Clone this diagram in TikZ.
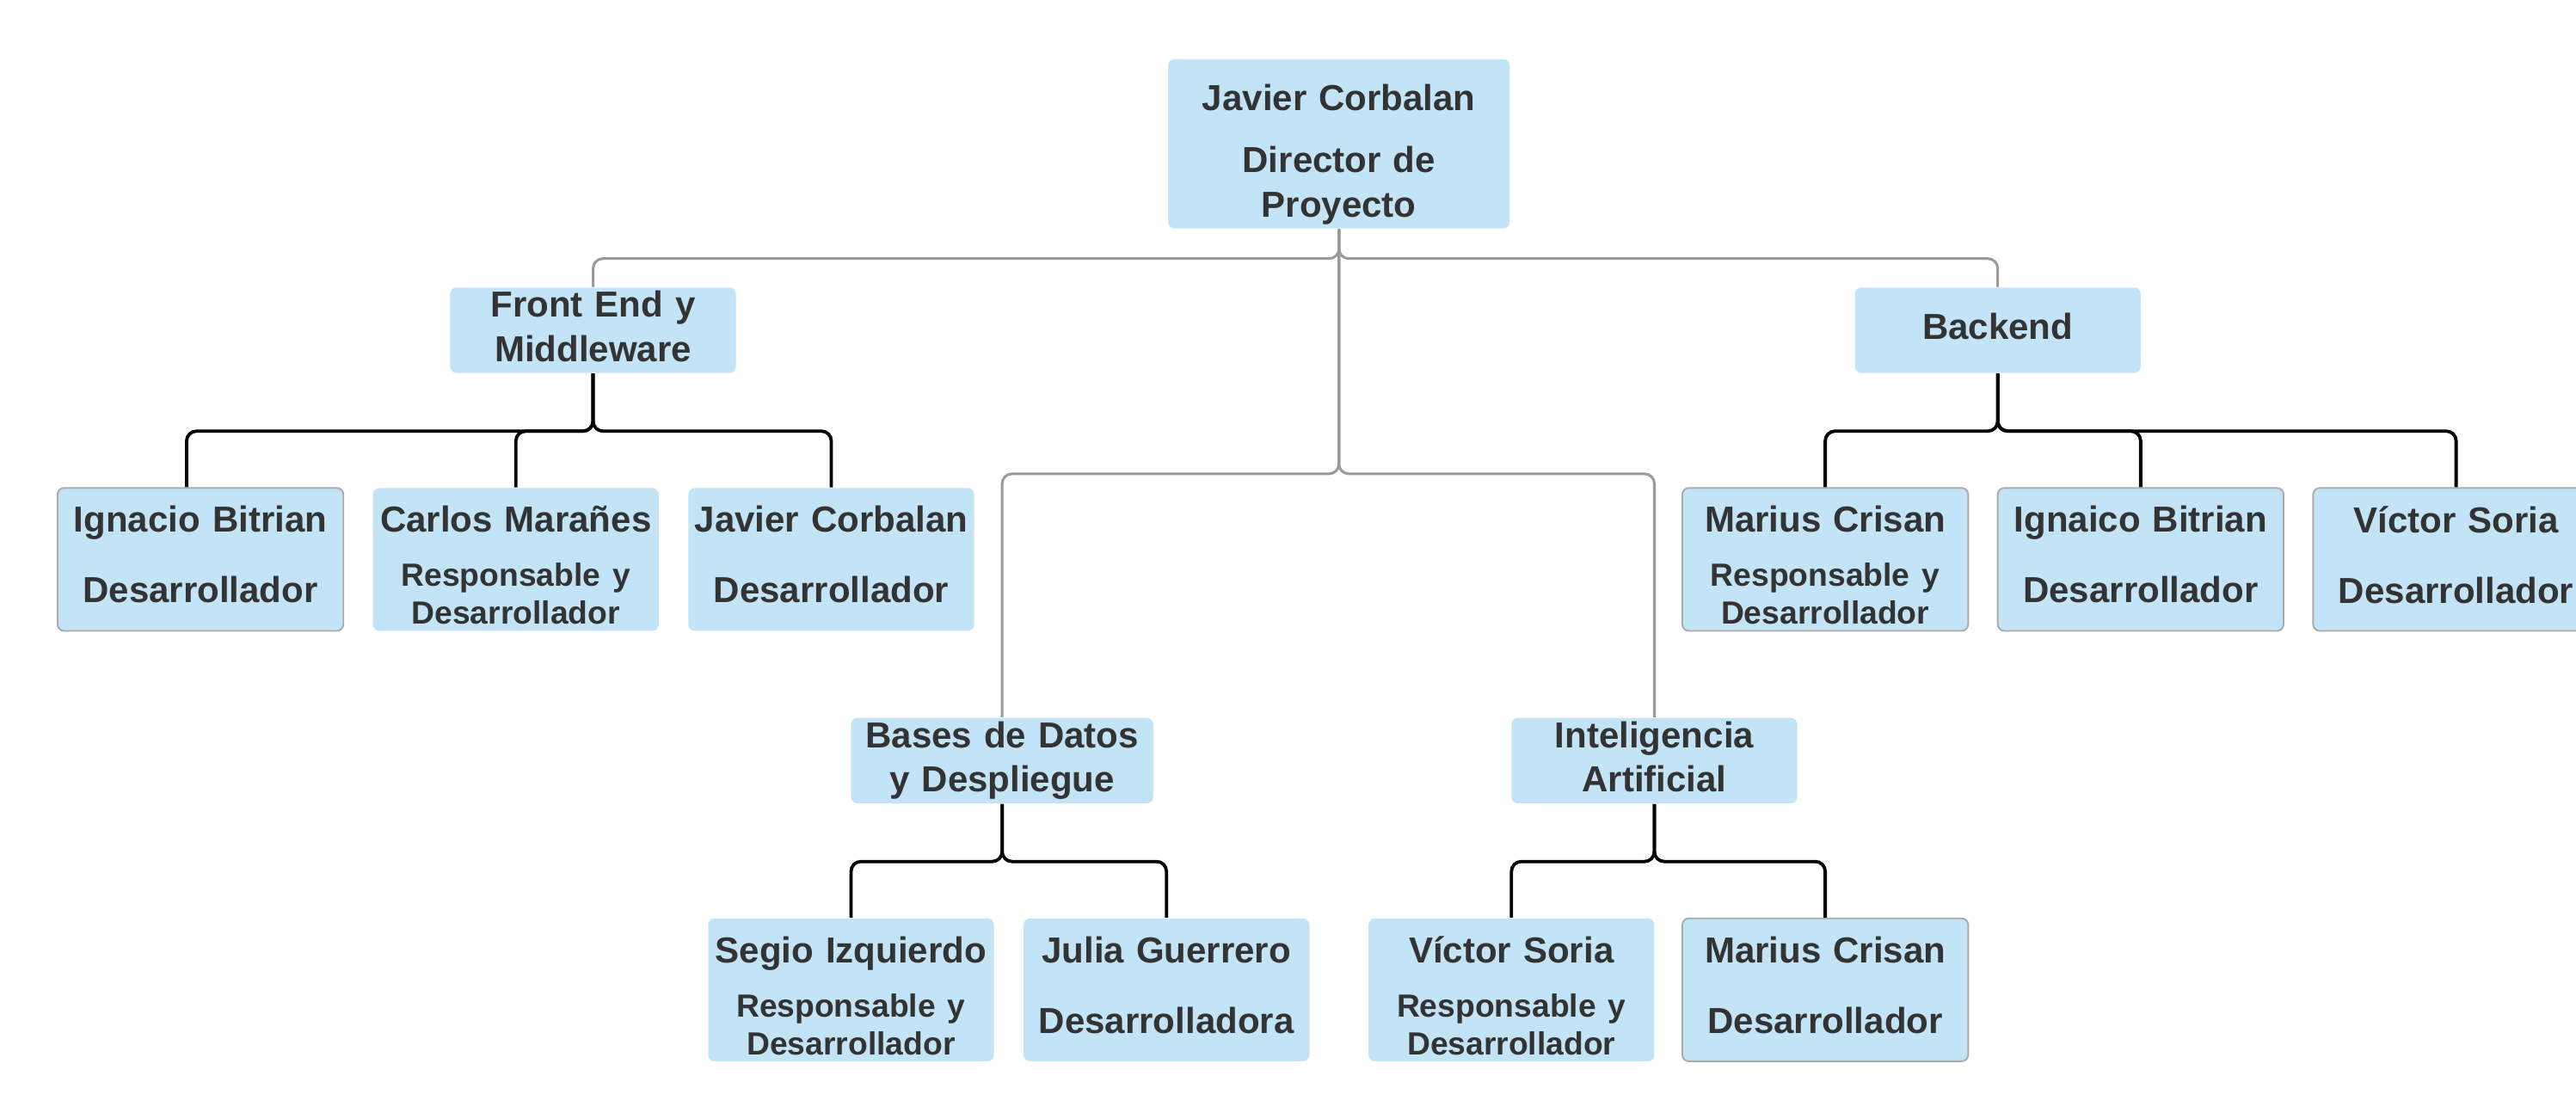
\documentclass[tikz,border=0pt]{standalone}
\usepackage{fontspec}
\setmainfont{Liberation Sans}
\definecolor{colorfondo}{HTML}{C2E4F6}
\definecolor{colortexto}{HTML}{333333}
\definecolor{colorjefe}{HTML}{9A9A9A}
\definecolor{colorborde}{HTML}{ABABAB}
\newcommand{\rolpeq}{\fontsize{9.75}{11.5}\selectfont}
\tikzset{
		basico/.style={fill=colorfondo, rounded corners=2pt, text=colortexto, align=center, inner sep=0pt, font=\fontsize{11}{13.5}\selectfont\bfseries, anchor=center},
		director/.style={basico, text width=104pt, minimum height=51.5pt, execute at begin node={\rule{0pt}{14.4pt}}},
		equipo/.style={basico, text width=87pt, minimum height=26pt, execute at end node={\rule[-2.4pt]{0pt}{2.4pt}}},
		hoja/.style={basico, text width=87pt, minimum height=43.5pt},
		miembro/.style={hoja, execute at end node={\rule[-3pt]{0pt}{3pt}}},
		miembrodos/.style={hoja, execute at begin node={\rule{0pt}{11.5pt}}},
		borde/.style={draw=colorborde, line width=0.5pt},
		ramajefe/.style={draw=colorjefe, line width=0.8pt, rounded corners=3pt},
		rama/.style={draw=black, line width=1pt, rounded corners=3pt}
	}
\begin{document}
\begin{tikzpicture}[x=0.5pt, y=-0.5pt]
		\useasboundingbox (0,0) rectangle (1568,680.6);
		% director
		\node[director] (dirproye) at (815,87.5) {Javier Corbalan\\[5.5pt]Director de\\Proyecto};
		% equipos
		\node[equipo] (frontend) at (361,201) {Front End y\\Middleware};
		\node[equipo] (backend) at (1216,201) {Backend};
		\node[equipo, text width=92pt] (basedato) at (610,463) {Bases de Datos\\y Despliegue};
		\node[equipo] (intelart) at (1007,463) {Inteligencia\\Artificial};
		% 1ra fila de miembros
		\node[miembro, borde] (ignabitr) at (122,340.5) {Ignacio Bitrian\\[8pt]Desarrollador};
		\node[miembrodos] (carlmara) at (314,340.5) {Carlos Marañes\\[5pt]\rolpeq Responsable y\\[-2pt]Desarrollador};
		\node[miembro] (javicorb) at (506,340.5) {Javier Corbalan\\[8pt]Desarrollador};
		\node[miembrodos, borde] (mariucri) at (1111,340.5) {Marius Crisan\\[5pt]\rolpeq Responsable y\\[-2pt]Desarrollador};
		\node[miembro, borde] (ignaicob) at (1303,340.5) {Ignaico Bitrian\\[8pt]Desarrollador};
		\node[miembro, borde] (victsori) at (1495,340.5) {Víctor Soria\\[8pt]Desarrollador};
		% 2da fila de miembros
		\node[miembrodos] (segiizqu) at (518,602.5) {Segio Izquierdo\\[5pt]\rolpeq Responsable y\\[-2pt]Desarrollador};
		\node[miembro] (juliguer) at (710,602.5) {Julia Guerrero\\[8pt]Desarrolladora};
		\node[miembrodos] (victsor2) at (920,602.5) {Víctor Soria\\[5pt]\rolpeq Responsable y\\[-2pt]Desarrollador};
		\node[miembro, borde] (mariucr2) at (1111,602.5) {Marius Crisan\\[8pt]Desarrollador};
		% ramas
		\foreach \hijo in {frontend,backend}
			\draw[ramajefe] (dirproye.south) -- ++(0,18) -| (\hijo.north);
		\foreach \hijo in {basedato,intelart}
			\draw[ramajefe] (dirproye.south) -- ++(0,149) -| (\hijo.north);
		\draw[rama] (frontend.south) -- ++(0,35) -| ([xshift=-4.2pt]ignabitr.north);
		\foreach \hijo in {carlmara,javicorb}
			\draw[rama] (frontend.south) -- ++(0,35) -| (\hijo.north);
		\foreach \hijo in {mariucri,ignaicob,victsori}
			\draw[rama] (backend.south) -- ++(0,35) -| (\hijo.north);
		\foreach \hijo in {segiizqu,juliguer}
			\draw[rama] (basedato.south) -- ++(0,35) -| (\hijo.north);
		\foreach \hijo in {victsor2,mariucr2}
			\draw[rama] (intelart.south) -- ++(0,35) -| (\hijo.north);
	\end{tikzpicture}
\end{document}
